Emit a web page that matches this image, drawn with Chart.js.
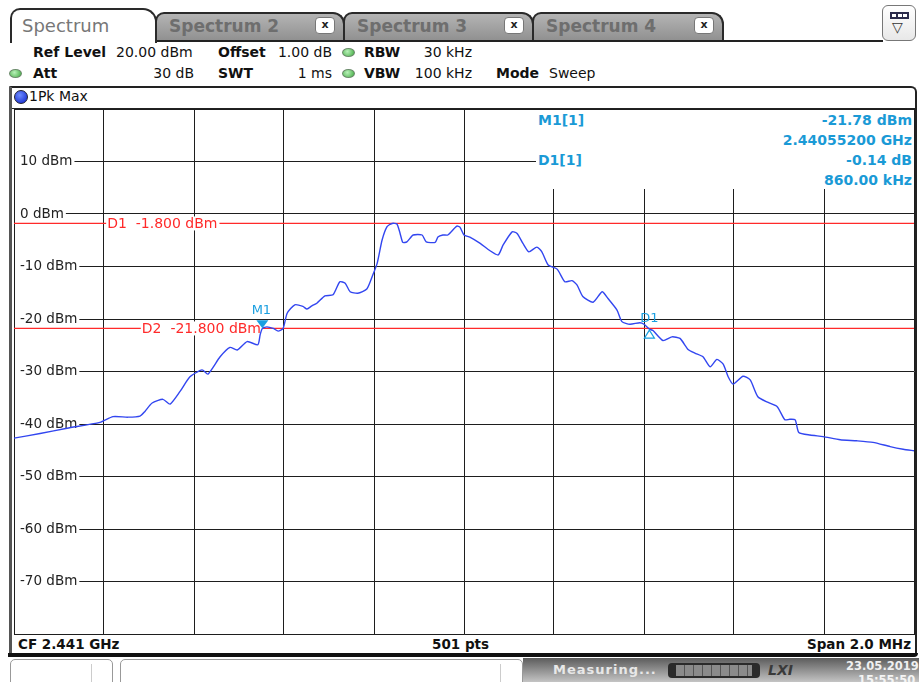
<!DOCTYPE html>
<html>
<head>
<meta charset="utf-8">
<script src="https://cdn.jsdelivr.net/npm/chart.js@4.4.0/dist/chart.umd.min.js"></script>
<style>
html, body { margin: 0; padding: 0; background: #fff; }
body { width: 919px; height: 682px; position: relative; overflow: hidden; font-family: "DejaVu Sans", Verdana, sans-serif; color: #111; }
.a { position: absolute; white-space: nowrap; }
.tab { position: absolute; box-sizing: border-box; border: 2px solid #2a2a2a; border-bottom: none; }
.tab.off { top: 12px; height: 30px; border-radius: 9px 12px 0 0; background: linear-gradient(#b4b4b4, #8e8e8e); }
.tab.off span { position: absolute; left: 12px; top: 2px; font-size: 17px; font-weight: bold; color: #6e6e6e; }
.tab .x { position: absolute; right: 8px; top: 3px; width: 18px; height: 15px; background: #fff; border: 1px solid #777; border-radius: 4px; font-size: 11px; font-weight: bold; line-height: 14px; text-align: center; color: #222; }
.hd { position: absolute; font-size: 14px; line-height: 17px; white-space: nowrap; }
.b { font-weight: bold; }
.dot { position: absolute; width: 13px; height: 9px; border-radius: 50%; background: radial-gradient(circle at 40% 35%, #b8f0b8, #3faa3f); border: 1px solid #6a8a6a; box-sizing: border-box; }
.mk { position: absolute; font-size: 14px; font-weight: bold; color: #1a9ad6; line-height: 18px; white-space: nowrap; }
.ft { position: absolute; top: 635px; font-size: 13.5px; font-weight: bold; line-height: 18px; white-space: nowrap; }
</style>
</head>
<body>

<!-- tabs -->
<div class="tab" style="left:10px;top:8px;width:147px;height:35px;border-radius:10px 14px 0 0;background:#fff;z-index:2;">
  <span class="a" style="left:10px;top:5px;font-size:18px;color:#777;">Spectrum</span>
</div>
<div class="tab off" style="left:155px;width:190px;"><span>Spectrum 2</span><div class="x">x</div></div>
<div class="tab off" style="left:343px;width:191px;"><span>Spectrum 3</span><div class="x">x</div></div>
<div class="tab off" style="left:532px;width:192px;"><span>Spectrum 4</span><div class="x">x</div></div>
<div class="a" style="left:155px;top:40px;width:728px;height:2px;background:#222;"></div>
<div class="a" style="left:882px;top:5px;width:34px;height:36px;box-sizing:border-box;border:1px solid #777;border-radius:6px;background:linear-gradient(#fff,#e8e8e8);">
  <div class="a" style="left:7px;top:6px;width:19px;height:7px;background:#2a2a4a;"></div>
  <div class="a" style="left:9px;top:8px;width:4px;height:3px;background:#fff;"></div>
  <div class="a" style="left:14.5px;top:8px;width:4px;height:3px;background:#fff;"></div>
  <div class="a" style="left:20px;top:8px;width:4px;height:3px;background:#fff;"></div>
  <span class="a" style="left:9px;top:13px;font-size:14px;color:#333;">&#9661;</span>
</div>

<!-- header -->
<span class="hd b" style="left:33px;top:44px;">Ref Level</span>
<span class="hd" style="left:116px;top:44px;">20.00 dBm</span>
<span class="hd b" style="left:218px;top:44px;">Offset</span>
<span class="hd" style="right:587px;top:44px;">1.00 dB</span>
<div class="dot" style="left:342px;top:48px;"></div>
<span class="hd b" style="left:364px;top:44px;">RBW</span>
<span class="hd" style="right:447px;top:44px;">30 kHz</span>

<div class="dot" style="left:9px;top:69px;"></div>
<span class="hd b" style="left:33px;top:65px;">Att</span>
<span class="hd" style="right:725px;top:65px;">30 dB</span>
<span class="hd b" style="left:218px;top:65px;">SWT</span>
<span class="hd" style="right:587px;top:65px;">1 ms</span>
<div class="dot" style="left:342px;top:69px;"></div>
<span class="hd b" style="left:364px;top:65px;">VBW</span>
<span class="hd" style="right:447px;top:65px;">100 kHz</span>
<span class="hd b" style="left:496px;top:65px;">Mode</span>
<span class="hd" style="left:549px;top:65px;">Sweep</span>

<!-- panel -->
<div class="a" style="left:9px;top:86px;width:908px;height:568px;box-sizing:border-box;border-top:2px solid #222;border-right:2px solid #222;border-left:3px solid #555;border-top-right-radius:6px;"></div>
<div class="a" style="left:14px;top:90px;width:12px;height:12px;border-radius:50%;background:radial-gradient(circle at 40% 35%, #6f8cff, #0a1fc8);border:1px solid #223;"></div>
<span class="hd" style="left:29px;top:88px;">1Pk Max</span>
<div class="a" style="left:12px;top:108px;width:903px;height:1px;background:#222;"></div>

<div class="a" style="left:14px;top:109px;width:901px;height:526px;">
  <canvas id="spec" width="901" height="526"></canvas>
</div>

<!-- marker info -->
<div class="a" style="left:536px;top:110px;width:378px;height:79px;background:#fff;"></div>
<span class="mk" style="left:538px;top:111px;">M1[1]</span>
<span class="mk" id="m1lvl" style="right:7px;top:111px;"></span>
<span class="mk" id="m1frq" style="right:7px;top:131px;"></span>
<span class="mk" style="left:538px;top:151px;">D1[1]</span>
<span class="mk" id="d1lvl" style="right:7px;top:151px;"></span>
<span class="mk" id="d1frq" style="right:7px;top:171px;"></span>

<!-- footer -->
<span class="ft" style="left:18px;">CF 2.441 GHz</span>
<span class="ft" style="left:432px;">501 pts</span>
<span class="ft" style="right:8px;">Span 2.0 MHz</span>
<div class="a" style="left:8px;top:653px;width:910px;height:4px;background:#111;border-bottom-right-radius:4px;"></div>

<!-- status bar -->
<div class="a" style="left:10px;top:659px;width:103px;height:30px;box-sizing:border-box;border:1px solid #999;border-radius:5px 5px 0 0;background:#fff;"></div>
<div class="a" style="left:91px;top:664px;width:1px;height:20px;background:#ccc;"></div>
<div class="a" style="left:120px;top:659px;width:403px;height:30px;box-sizing:border-box;border:1px solid #999;border-radius:5px 5px 0 0;background:#fff;"></div>
<div class="a" style="left:500px;top:664px;width:1px;height:20px;background:#ccc;"></div>
<div class="a" style="left:523px;top:658px;width:396px;height:24px;background:linear-gradient(#5c5c5c,#c4c4c4);"></div>
<span class="a" style="left:553px;top:662px;font-size:13px;font-weight:bold;color:#e8e8e8;letter-spacing:1px;">Measuring...</span>
<div class="a" style="left:668px;top:663px;width:92px;height:15px;border-radius:4px;background:#2a2a2a;"></div>
<div class="a" style="left:676px;top:665px;width:76px;height:11px;background:repeating-linear-gradient(90deg,#8a8a8a 0 8px,#555 8px 9px);"></div>
<span class="a" style="left:768px;top:662px;font-size:14px;font-weight:bold;font-style:italic;color:#3a3a3a;">LXI</span>
<span class="a" style="left:846px;top:659px;font-size:11.5px;font-weight:bold;color:#f0f0f0;">23.05.2019</span>
<span class="a" style="left:858px;top:673px;font-size:11.5px;font-weight:bold;color:#f4f4f4;">15:55:50</span>

<script>
// trace 1Pk Max (frequency in MHz, level in dBm)
const freqsMHz = [
  2440.000, 2440.058, 2440.118, 2440.191, 2440.220, 2440.253, 2440.280, 2440.291, 2440.307, 2440.331,
  2440.347, 2440.369, 2440.391, 2440.418, 2440.431, 2440.458, 2440.480, 2440.496, 2440.518, 2440.542,
  2440.547, 2440.552, 2440.562, 2440.576, 2440.587, 2440.598, 2440.607, 2440.624, 2440.642, 2440.651,
  2440.662, 2440.673, 2440.691, 2440.709, 2440.724, 2440.736, 2440.747, 2440.764, 2440.784, 2440.796,
  2440.807, 2440.818, 2440.829, 2440.840, 2440.851, 2440.858, 2440.864, 2440.873, 2440.887, 2440.907,
  2440.916, 2440.936, 2440.942, 2440.953, 2440.964, 2440.984, 2440.991, 2441.000, 2441.013, 2441.036,
  2441.058, 2441.076, 2441.087, 2441.107, 2441.118, 2441.131, 2441.144, 2441.162, 2441.173, 2441.187,
  2441.207, 2441.224, 2441.240, 2441.251, 2441.264, 2441.287, 2441.307, 2441.320, 2441.340, 2441.351,
  2441.369, 2441.391, 2441.400, 2441.412, 2441.420, 2441.442, 2441.462, 2441.480, 2441.498, 2441.513,
  2441.531, 2441.547, 2441.562, 2441.576, 2441.587, 2441.598, 2441.620, 2441.636, 2441.653, 2441.676,
  2441.696, 2441.713, 2441.724, 2441.736, 2441.744, 2441.769, 2441.798, 2441.836, 2441.873, 2441.909,
  2441.947, 2441.976, 2442.000
];
const levelsDbm = [
  -42.7, -41.8, -40.8, -39.7, -38.6, -38.7, -38.5, -37.6, -36.0, -35.3,
  -36.2, -33.8, -31.0, -29.7, -30.5, -27.2, -25.4, -25.9, -24.3, -24.9,
  -23.0, -21.78, -21.5, -21.8, -22.3, -21.8, -18.9, -17.3, -17.6, -18.1,
  -17.5, -17.0, -15.6, -15.4, -12.9, -13.2, -14.8, -15.1, -14.3, -11.9,
  -9.4, -4.95, -2.4, -1.8, -1.9, -3.7, -5.4, -5.3, -4.0, -4.0,
  -5.3, -5.4, -4.4, -4.0, -4.0, -2.3, -2.5, -4.0, -4.4, -5.6,
  -7.0, -7.8, -5.9, -3.4, -3.7, -5.6, -7.2, -6.3, -7.2, -9.7,
  -10.5, -12.9, -12.7, -13.5, -15.7, -16.8, -14.8, -16.1, -18.3, -20.5,
  -21.0, -20.7, -21.0, -21.92, -22.2, -24.1, -23.4, -23.7, -25.8, -26.5,
  -27.2, -29.1, -27.7, -28.6, -31.0, -32.4, -30.9, -31.6, -34.8, -35.9,
  -36.7, -39.2, -39.1, -39.2, -41.6, -42.1, -42.4, -43.0, -43.2, -43.5,
  -44.3, -44.8, -45.1
];

// display lines
const lineNames = ['D1', 'D2'];
const lineLevels = [-1.8, -21.8];
const lineLabelFreqs = [2440.207, 2440.284];

// markers
const markerNames = ['M1', 'D1'];
const markerFreqs = [2440.552, 2441.412];
const markerLevels = [-21.78, -21.92];

// axis
const freqMin = 2440, freqMax = 2442, freqStep = 0.2;
const refLevel = 20, levelMin = -80, levelStep = 10;

document.getElementById('m1lvl').textContent = markerLevels[0].toFixed(2) + ' dBm';
document.getElementById('m1frq').textContent = (markerFreqs[0] / 1000).toFixed(8) + ' GHz';
document.getElementById('d1lvl').textContent = (markerLevels[1] - markerLevels[0]).toFixed(2) + ' dB';
document.getElementById('d1frq').textContent = ((markerFreqs[1] - markerFreqs[0]) * 1000).toFixed(2) + ' kHz';

const RED = '#ff2a2a';
const MKBLUE = '#1a9fe0';

const lineLabels = {
  id: 'lineLabels',
  afterDatasetDraw(chart, args) {
    const i = args.index - 1;
    if (i < 0) return;
    const {ctx, scales: {x, y}} = chart;
    const px = x.getPixelForValue(lineLabelFreqs[i]);
    const py = y.getPixelForValue(lineLevels[i]);
    const txt = lineNames[i] + '  ' + lineLevels[i].toFixed(3) + ' dBm';
    ctx.save();
    ctx.font = '14px "DejaVu Sans"';
    ctx.textBaseline = 'middle';
    const w = ctx.measureText(txt).width;
    ctx.fillStyle = '#fff';
    ctx.fillRect(px - 1, py - 7, w + 3, 14);
    ctx.fillStyle = RED;
    ctx.fillText(txt, px, py + 1);
    ctx.restore();
  }
};

const markers = {
  id: 'markers',
  afterDatasetsDraw(chart) {
    const {ctx, scales: {x, y}} = chart;
    ctx.save();
    ctx.font = '13px "DejaVu Sans"';
    ctx.textAlign = 'center';
    ctx.textBaseline = 'middle';
    ctx.fillStyle = MKBLUE;
    ctx.strokeStyle = MKBLUE;
    ctx.lineWidth = 1.2;
    markerNames.forEach((name, i) => {
      const px = x.getPixelForValue(markerFreqs[i]);
      const py = y.getPixelForValue(markerLevels[i]);
      ctx.beginPath();
      if (i === 0) {
        ctx.moveTo(px, py);
        ctx.lineTo(px - 6, py - 8);
        ctx.lineTo(px + 6, py - 8);
        ctx.closePath();
        ctx.fill();
        ctx.fillText(name, px - 1, py - 18);
      } else {
        ctx.moveTo(px, py + 1);
        ctx.lineTo(px - 5, py + 9);
        ctx.lineTo(px + 5, py + 9);
        ctx.closePath();
        ctx.stroke();
        ctx.fillText(name, px, py - 10);
      }
    });
    ctx.restore();
  }
};

const lineData = lv => [{x: freqMin, y: lv}, {x: freqMax, y: lv}];

// mirrored labels sit inside the plot, so the axis takes no room
const noRoom = axis => {
  axis.width = 0;
  axis.paddingTop = 0;
  axis.paddingBottom = 0;
  axis.paddingLeft = 0;
  axis.paddingRight = 0;
};

new Chart(document.getElementById('spec'), {
  type: 'line',
  data: {
    datasets: [
      {
        label: '1Pk Max',
        data: freqsMHz.map((f, i) => ({x: f, y: levelsDbm[i]})),
        borderColor: 'rgb(50,70,240)',
        borderWidth: 1.4,
        tension: 0.2,
        pointRadius: 0
      },
      {
        label: lineNames[0],
        data: lineData(lineLevels[0]),
        borderColor: RED,
        borderWidth: 1.2,
        pointRadius: 0
      },
      {
        label: lineNames[1],
        data: lineData(lineLevels[1]),
        borderColor: RED,
        borderWidth: 1.2,
        pointRadius: 0
      }
    ]
  },
  options: {
    responsive: false,
    animation: false,
    layout: { padding: { left: 0, top: 0, right: 1, bottom: 1 } },
    plugins: { legend: { display: false }, tooltip: { enabled: false } },
    scales: {
      x: {
        type: 'linear',
        min: freqMin,
        max: freqMax,
        ticks: { display: false, stepSize: freqStep },
        grid: { color: '#1e1e1e', lineWidth: 1, drawTicks: false },
        border: { display: true, color: '#1e1e1e' },
        afterFit: axis => { axis.height = 0; axis.paddingLeft = 0; axis.paddingRight = 0; }
      },
      y: {
        min: levelMin,
        max: refLevel,
        afterFit: noRoom,
        ticks: {
          stepSize: levelStep,
          mirror: true,
          padding: 6,
          color: '#222',
          font: { family: 'DejaVu Sans', size: 13.5 },
          callback: v => (v === refLevel || v === levelMin) ? '' : v + ' dBm',
          showLabelBackdrop: ctx => !!ctx.tick && ctx.tick.value < refLevel && ctx.tick.value > levelMin,
          backdropColor: '#fff',
          backdropPadding: { left: 5, right: 2, top: 0, bottom: 0 }
        },
        grid: { color: '#1e1e1e', lineWidth: 1, drawTicks: false },
        border: { display: true, color: '#1e1e1e' }
      }
    }
  },
  plugins: [lineLabels, markers]
});
</script>
</body>
</html>
